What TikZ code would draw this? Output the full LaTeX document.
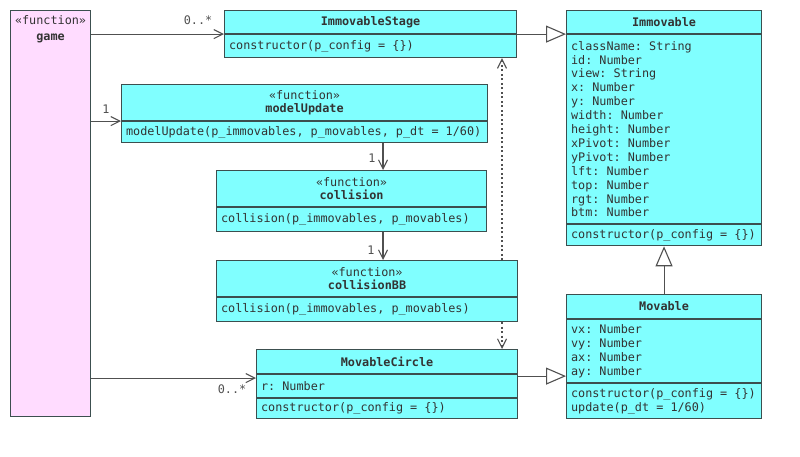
\documentclass[tikz,border=0pt]{standalone}
\usepackage{fontspec}
\newfontfamily\umlmono{DejaVu Sans Mono}[WordSpace={1,0,0}]
\newcommand\umlfont[1][13.9]{\umlmono\fontsize{11.8}{#1}\selectfont}
\newcommand\umlspace{\spaceskip=0.602em\xspaceskip=0.602em\relax}
\usetikzlibrary{arrows.meta,positioning}
\definecolor{umlcyan}{HTML}{80FFFF}
\definecolor{umlpink}{HTML}{FFDCFF}
\definecolor{umledge}{HTML}{3C4F4F}
\definecolor{umlwire}{HTML}{505050}
\tikzset{
  cls/.style={draw=umledge, fill=umlcyan, line width=1.1pt, inner xsep=4.5pt, inner ysep=0pt, font=\umlfont, text=black!80},
  hdr/.style={cls, align=center},
  cmp/.style={cls, align=left, execute at begin node=\umlspace},
  mult/.style={font=\umlfont, text=umlwire, inner sep=0pt},
  assoc/.style={draw=umlwire, line width=1.1pt, -{Straight Barb[length=9pt,width=9pt]}},
  dep/.style={assoc, dash pattern=on 2pt off 2.5pt},
  inh/.style={draw=umlwire, line width=1.1pt, -{Triangle[open, fill=white, length=20pt, width=17pt]}}
}
\begin{document}
\begin{tikzpicture}[x=1pt, y=-1pt]
\useasboundingbox (0,0) rectangle (800,456);

% game function
\node[cls, fill=umlpink, minimum width=80, minimum height=406, anchor=north west] (game) at (10,10) {};
\node[below=5pt of game.north, align=center, inner sep=0pt, font={\umlfont[16]}, text=black!80] (game-name) {«function»\\\textbf{game}};

% classes
\node[hdr, text width=283, minimum height=23, anchor=north west] (stage) at (224,10) {\textbf{ImmovableStage}};
\node[cmp, text width=283, minimum height=23, below=0pt of stage] (stage-ops) {constructor(p\_config = \{\})};

\node[hdr, text width=186, minimum height=23, anchor=north west] (imm) at (566,10) {\textbf{Immovable}};
\node[cmp, text width=186, minimum height=189, below=0pt of imm] (imm-attr) {className: String\\id: Number\\view: String\\x: Number\\y: Number\\width: Number\\height: Number\\xPivot: Number\\yPivot: Number\\lft: Number\\top: Number\\rgt: Number\\btm: Number};
\node[cmp, text width=186, minimum height=21, below=0pt of imm-attr] (imm-ops) {constructor(p\_config = \{\})};

\node[hdr, text width=357, minimum height=36, anchor=north west] (upd) at (121,84) {«function»\\[-1pt]\textbf{modelUpdate}};
\node[cmp, text width=357, minimum height=21, below=0pt of upd] (upd-ops) {modelUpdate(p\_immovables, p\_movables, p\_dt = 1/60)};

\node[hdr, text width=261, minimum height=36, anchor=north west] (coll) at (216,170) {«function»\\[-1pt]\textbf{collision}};
\node[cmp, text width=261, minimum height=24, below=0pt of coll] (coll-ops) {collision(p\_immovables, p\_movables)};

\node[hdr, text width=292, minimum height=36, anchor=north west] (bb) at (216,260) {«function»\\[-1pt]\textbf{collisionBB}};
\node[cmp, text width=292, minimum height=24, below=0pt of bb] (bb-ops) {collision(p\_immovables, p\_movables)};

\node[hdr, text width=252, minimum height=24, anchor=north west] (circ) at (256,349) {\textbf{MovableCircle}};
\node[cmp, text width=252, minimum height=23, below=0pt of circ] (circ-attr) {r: Number};
\node[cmp, text width=252, minimum height=20, below=0pt of circ-attr] (circ-ops) {constructor(p\_config = \{\})};

\node[hdr, text width=186, minimum height=24, anchor=north west] (mov) at (566,294) {\textbf{Movable}};
\node[cmp, text width=186, minimum height=63, below=0pt of mov] (mov-attr) {vx: Number\\vy: Number\\ax: Number\\ay: Number};
\node[cmp, text width=186, minimum height=35, below=0pt of mov-attr] (mov-ops) {constructor(p\_config = \{\})\\update(p\_dt = 1/60)};

% associations
\draw[assoc] (game.east |- stage.south) -- (stage.south west);
\node[mult] (m-stage) at (198,20) {0..*};
\draw[assoc] (game.east |- upd.south) -- (upd.south west);
\node[mult] (m-upd) at (106,109) {1};
\coordinate (circ-in) at ([yshift=-4pt]circ.south west);
\draw[assoc] (game.east |- circ-in) -- (circ-in);
\node[mult] (m-circ) at (232,389) {0..*};

\coordinate (down) at (383,0);
\draw[assoc] (upd-ops.south -| down) -- (coll.north -| down);
\node[mult] (m-coll) at (372,158) {1};
\draw[assoc] (coll-ops.south -| down) -- (bb.north -| down);
\node[mult] (m-bb) at (371,250) {1};

% dependencies
\coordinate (dotx) at (502,0);
\draw[dep] (bb.north -| dotx) -- (stage-ops.south -| dotx);
\draw[dep] (bb-ops.south -| dotx) -- (circ.north -| dotx);

% inheritance
\draw[inh] (stage.south east) -- (stage.south east -| imm.west);
\draw[inh] (mov.north) -- (imm-ops.south);
\coordinate (circ-out) at ([yshift=-2pt]circ.south east);
\draw[inh] (circ-out) -- (circ-out -| mov.west);
\end{tikzpicture}
\end{document}
